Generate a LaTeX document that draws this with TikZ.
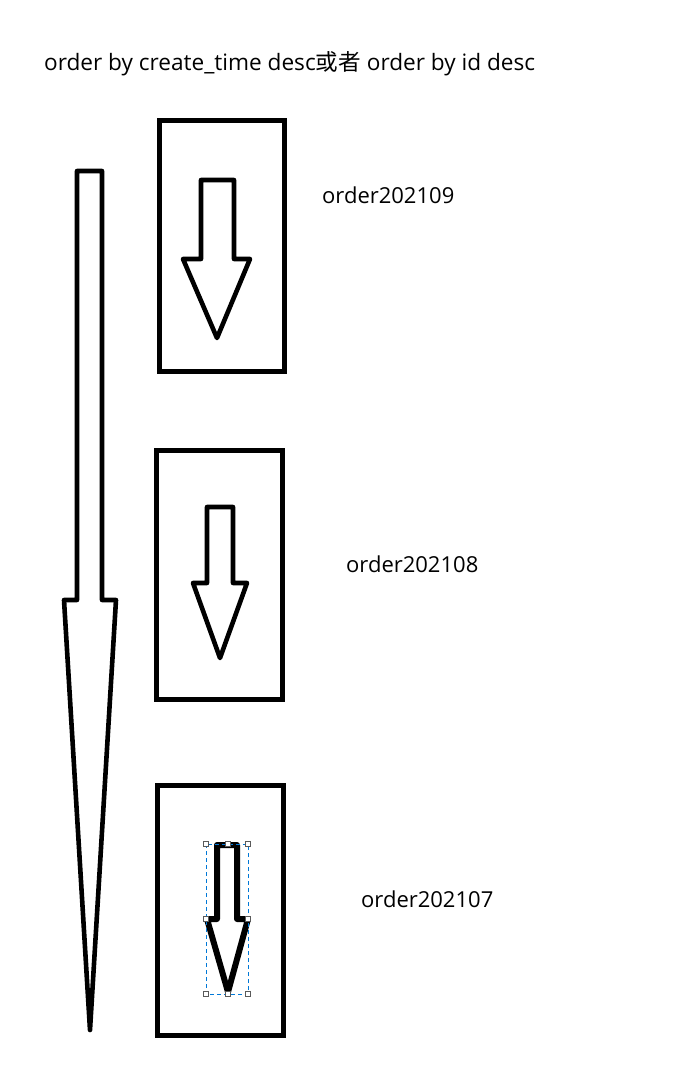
\documentclass[tikz,border=0pt]{standalone}
\usepackage{fontspec}
\setmainfont{Open Sans}
\newfontfamily\cjk{Noto Sans CJK SC}
\tikzset{
  frame/.style={draw=black, line width=5pt, fill=white},
  blockarrow/.style={draw=black, line width=4.6pt, line join=round, fill=white},
  label/.style={anchor=base west, inner sep=0pt, font=\fontsize{22}{26}\selectfont},
  titlefont/.style={font=\fontsize{22.6}{26}\selectfont},
  selbox/.style={draw={rgb,255:red,0;green,120;blue,215}, line width=1pt, dash pattern=on 4pt off 3pt},
  handle/.style={draw={rgb,255:red,90;green,90;blue,90}, fill=white, line width=0.8pt, minimum size=5pt, inner sep=0pt, shape=rectangle}
}
% #1 style, #2 shaft left, #3 shaft right, #4 top, #5 shoulder, #6 head left, #7 head right, #8 tip x, #9 tip y
\newcommand\myArrow[9]{%
  \draw[#1] (#2,#4) -- (#3,#4) -- (#3,#5) -- (#7,#5) -- (#8,#9) -- (#6,#5) -- (#2,#5) -- cycle;}
\begin{document}
\begin{tikzpicture}[x=1pt,y=-1pt]
\useasboundingbox[fill=white] (0,0) rectangle (688,1071);

\node[label, titlefont] (title) at (44,70) {order by create\_time desc{\cjk 或者} order by id desc};

% big arrow
\myArrow{blockarrow}{77}{102}{171}{600}{64}{116}{90}{1030}

% boxes
\draw[frame] (159,120) rectangle (284,371);
\draw[frame] (156,450) rectangle (282,699);
\draw[frame] (157,785) rectangle (283,1035);

% arrows in boxes
\myArrow{blockarrow}{201}{234}{180}{259}{183}{250}{217}{338}
\myArrow{blockarrow}{207}{233}{507}{583}{193}{247}{220}{658}
\myArrow{blockarrow, line width=6pt}{217}{237}{845}{919}{207}{248}{228}{992}

% selection frame
\draw[selbox] (206,844) rectangle (248,994);
\foreach \p/\n in {{(206,844)}/h1,{(228,844)}/h2,{(248,844)}/h3,{(206,919)}/h4,{(248,919)}/h5,{(206,994)}/h6,{(228,994)}/h7,{(248,994)}/h8}
  \node[handle] (\n) at \p {};

\node[label] (l1) at (322,203) {order202109};
\node[label] (l2) at (346,572) {order202108};
\node[label] (l3) at (361,907) {order202107};
\end{tikzpicture}
\end{document}
